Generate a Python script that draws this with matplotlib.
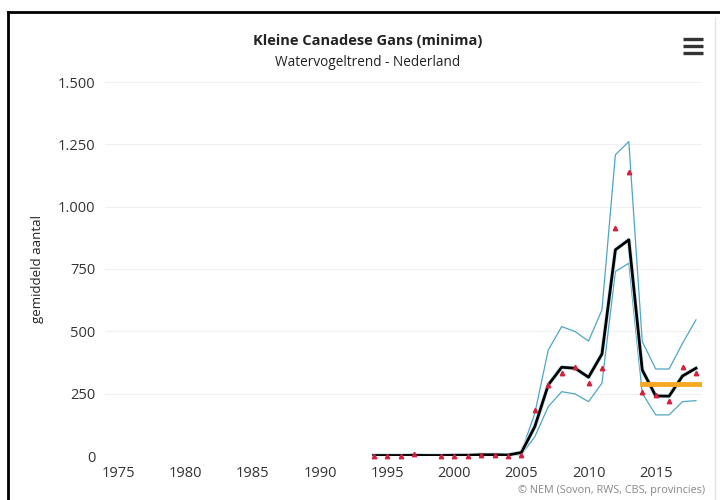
import matplotlib
matplotlib.use("Agg")
import matplotlib.pyplot as plt
import matplotlib.patheffects as pe
from matplotlib.lines import Line2D
import numpy as np

plt.rcParams['font.family'] = ['Open Sans', 'DejaVu Sans']

# trend (model) and confidence band
years = list(range(1994, 2019))
trend = [2, 2, 2, 3, 2, 2, 3, 3, 5, 5, 4, 14, 118, 285, 356, 352, 316, 409, 827, 867, 345, 241, 240, 321, 352]
upper = [4, 4, 4, 6, 4, 4, 5, 5, 8, 8, 7, 16, 171, 425, 519, 499, 461, 586, 1208, 1261, 459, 349, 349, 452, 546]
lower = [0, 0, 0, 1, 0, 0, 1, 1, 3, 3, 2, 6, 77, 198, 258, 249, 218, 292, 740, 773, 252, 165, 165, 218, 222]
# observed counts (1998 missing)
counts = [0, 0, 0, 10, np.nan, 0, 1, 0, 6, 5, 2, 3, 185, 285, 334, 358, 294, 352, 913, 1141, 258, 245, 221, 356, 334]
# target value line
target_years = [2014, 2018.4]
target_vals = [287, 287]

xticks = [1975, 1980, 1985, 1990, 1995, 2000, 2005, 2010, 2015]
yticks = [0, 250, 500, 750, 1000, 1250, 1500]
ylabels = ['0', '250', '500', '750', '1.000', '1.250', '1.500']

fig = plt.figure(figsize=(7.2, 5), dpi=100)
ax = fig.add_axes([0.146, 0.088, 0.829, 0.748])

ax.plot(years, upper, color='#4fa6c4', lw=0.9)
ax.plot(years, lower, color='#4fa6c4', lw=0.9)
ax.plot(years, trend, color='black', lw=2.0, zorder=4,
        path_effects=[pe.Stroke(linewidth=3.2, foreground='#cdebf3'), pe.Normal()])
ax.plot(target_years, target_vals, color='#f7a823', lw=3.5, zorder=5)
ax.plot(years, counts, linestyle='none', marker='^', ms=3.2, color='#d3213d',
        zorder=6, clip_on=False)

ax.set_xlim(1974.0, 2018.45)
ax.set_ylim(0, 1500)
ax.set_xticks(xticks)
ax.set_yticks(yticks)
ax.set_yticklabels(ylabels)
ax.tick_params(axis='both', length=0, labelsize=10.5, colors='#333333')
ax.tick_params(axis='y', pad=7)
ax.tick_params(axis='x', pad=7)
ax.grid(axis='y', color='#f0f0f0', lw=0.8)
ax.set_axisbelow(True)
for s in ax.spines.values():
    s.set_visible(False)
ax.set_ylabel('gemiddeld aantal', fontsize=9.5, color='#222222', labelpad=10)

fig.text(0.511, 0.918, 'Kleine Canadese Gans (minima)', ha='center', va='center',
         fontsize=10.5, fontweight='bold', color='#222222')
fig.text(0.511, 0.874, 'Watervogeltrend - Nederland', ha='center', va='center',
         fontsize=9.8, color='#222222')
fig.text(0.979, 0.02, '© NEM (Sovon, RWS, CBS, provincies)', ha='right', va='center',
         fontsize=7.8, color='#888888')

# menu icon
for yy in [0.922, 0.908, 0.895]:
    fig.add_artist(Line2D([0.949, 0.976], [yy, yy], color='#333333', lw=2.4,
                          solid_capstyle='butt'))

# outer frame
fig.add_artist(Line2D([0.011, 0.011], [0.0, 0.976], color='black', lw=2))
fig.add_artist(Line2D([0.011, 1.0], [0.976, 0.976], color='black', lw=2))
fig.add_artist(Line2D([0.993, 0.993], [0.0, 0.965], color='#e4e4e4', lw=1))

fig.savefig('out.png', dpi=100)
